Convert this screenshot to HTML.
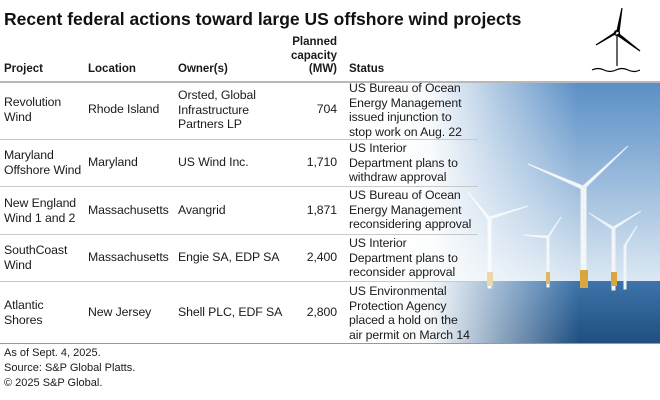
<!DOCTYPE html>
<html><head><meta charset="utf-8"><style>
body{margin:0;width:660px;height:400px;background:#fff;position:relative;overflow:hidden;font-family:"Liberation Sans",sans-serif;color:#1a1a1a}
.a{position:absolute;white-space:nowrap}
.c{font-size:12.3px;line-height:14.5px;letter-spacing:-0.1px}
.h{font-size:11.5px;font-weight:bold;line-height:13px}
.r{text-align:right}
.line{position:absolute;left:0;height:1px;background:#c8c8c8}
.f{font-size:11px;line-height:15px}
</style></head><body>
<svg class="a" style="left:0;top:0" width="660" height="400">
<defs>
<linearGradient id="sky" x1="0" y1="0" x2="0" y2="1"><stop offset="0" stop-color="#5a8fc6"/><stop offset="1" stop-color="#dce8f3"/></linearGradient>
<linearGradient id="sea" x1="0" y1="0" x2="0" y2="1"><stop offset="0" stop-color="#3e74aa"/><stop offset="1" stop-color="#1f4f80"/></linearGradient>
<linearGradient id="fade" x1="0" y1="0" x2="1" y2="0"><stop offset="0" stop-color="#fff" stop-opacity="1"/><stop offset="0.15" stop-color="#fff" stop-opacity="0.95"/><stop offset="0.4" stop-color="#fff" stop-opacity="0.5"/><stop offset="0.7" stop-color="#fff" stop-opacity="0"/></linearGradient>
</defs>
<rect x="390" y="83" width="270" height="198" fill="url(#sky)"/>
<rect x="390" y="281" width="270" height="62" fill="url(#sea)"/>
<g fill="#f4f7fa" stroke="#eef2f6">
<rect x="581" y="187" width="5" height="100"/><rect x="580" y="270" width="8" height="18" fill="#d9a640" stroke="none"/>
<polygon points="583,186 628,146 585,188"/><polygon points="583,186 528,164 582,189"/><polygon points="583,186 585,242 581,188"/>
<rect x="612" y="228" width="3" height="62"/><rect x="611" y="272" width="6" height="14" fill="#d9a640" stroke="none"/>
<polygon points="613,227 641,211 614,229"/><polygon points="613,227 589,213 612,229"/>
<rect x="488" y="218" width="3" height="70"/><rect x="487" y="272" width="6" height="14" fill="#d9a640" stroke="none"/>
<polygon points="489,217 528,206 490,219"/><polygon points="489,217 468,192 488,219"/>
<rect x="547" y="237" width="2" height="50"/><rect x="546" y="272" width="4" height="12" fill="#d9a640" stroke="none"/>
<polygon points="548,236 561,217 549,237"/><polygon points="548,236 523,235 548,238"/>
<rect x="624" y="245" width="2" height="44"/><polygon points="625,244 637,226 626,245"/>
</g>
<rect x="390" y="83" width="270" height="261" fill="url(#fade)"/>
<g stroke="#000" stroke-width="1.2" fill="none">
<line x1="617" y1="35" x2="617" y2="66"/><circle cx="617" cy="33" r="2.5"/>
<path d="M617 31 L622 8 L619 32 Z M619 34 L640 51 L617 35 Z M615 34 L596 45 L616 32 Z" fill="#000"/>
<path d="M592 70 q6 -3 12 0 q6 3 12 0 q6 -3 12 0 q6 3 12 0"/>
</g>
</svg>
<div class="a" style="left:4px;top:9px;font-size:17.5px;font-weight:bold;color:#111">Recent federal actions toward large US offshore wind projects</div>
<div class="a h" style="left:4px;top:63px">Project</div>
<div class="a h" style="left:88px;top:63px">Location</div>
<div class="a h" style="left:178px;top:63px">Owner(s)</div>
<div class="a h r" style="right:323px;top:36px;line-height:13.5px">Planned<br>capacity<br>(MW)</div>
<div class="a h" style="left:349px;top:63px">Status</div>
<div class="line" style="top:81px;width:660px;height:2px;background:#b8b8b8"></div>

<div>
<div class="a c" style="left:4px;top:95px">Revolution<br>Wind</div>
<div class="a c" style="left:88px;top:102px">Rhode Island</div>
<div class="a c" style="left:178px;top:88px">Orsted, Global<br>Infrastructure<br>Partners LP</div>
<div class="a c r" style="right:323px;top:102px">704</div>
<div class="a c" style="left:349px;top:81px">US Bureau of Ocean<br>Energy Management<br>issued injunction to<br>stop work on Aug. 22</div>
</div>
<div class="line" style="top:139px;width:478px"></div>
<div>
<div class="a c" style="left:4px;top:148px">Maryland<br>Offshore Wind</div>
<div class="a c" style="left:88px;top:155px">Maryland</div>
<div class="a c" style="left:178px;top:155px">US Wind Inc.</div>
<div class="a c r" style="right:323px;top:155px">1,710</div>
<div class="a c" style="left:349px;top:141px">US Interior<br>Department plans to<br>withdraw approval</div>
</div>
<div class="line" style="top:186px;width:478px"></div>
<div>
<div class="a c" style="left:4px;top:196px">New England<br>Wind 1 and 2</div>
<div class="a c" style="left:88px;top:203px">Massachusetts</div>
<div class="a c" style="left:178px;top:203px">Avangrid</div>
<div class="a c r" style="right:323px;top:203px">1,871</div>
<div class="a c" style="left:349px;top:188px">US Bureau of Ocean<br>Energy Management<br>reconsidering approval</div>
</div>
<div class="line" style="top:234px;width:478px"></div>
<div>
<div class="a c" style="left:4px;top:243px">SouthCoast<br>Wind</div>
<div class="a c" style="left:88px;top:250px">Massachusetts</div>
<div class="a c" style="left:178px;top:250px">Engie SA, EDP SA</div>
<div class="a c r" style="right:323px;top:250px">2,400</div>
<div class="a c" style="left:349px;top:236px">US Interior<br>Department plans to<br>reconsider approval</div>
</div>
<div class="line" style="top:281px;width:478px"></div>
<div>
<div class="a c" style="left:4px;top:298px">Atlantic<br>Shores</div>
<div class="a c" style="left:88px;top:305px">New Jersey</div>
<div class="a c" style="left:178px;top:305px">Shell PLC, EDF SA</div>
<div class="a c r" style="right:323px;top:305px">2,800</div>
<div class="a c" style="left:349px;top:284px">US Environmental<br>Protection Agency<br>placed a hold on the<br>air permit on March 14</div>
</div>
<div class="line" style="top:343px;width:660px;background:#999"></div>
<div class="a f" style="left:4px;top:346px">As of Sept. 4, 2025.<br>Source: S&amp;P Global Platts.<br>© 2025 S&amp;P Global.</div>
</body></html>
